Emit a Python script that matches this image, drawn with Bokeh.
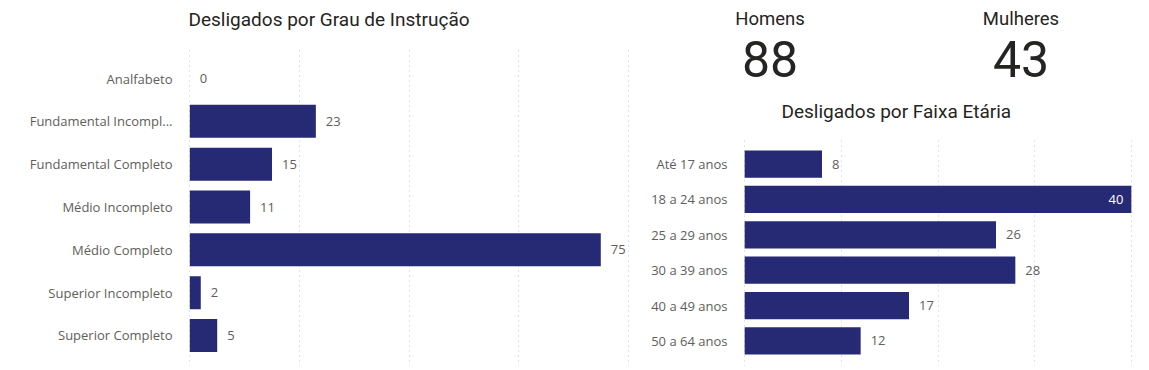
from bokeh.plotting import figure
from bokeh.models import ColumnDataSource, FactorRange, Range1d, Grid, FixedTicker, Title
from bokeh.layouts import row, column
from bokeh.embed import file_html
from bokeh.resources import INLINE
from bokeh.core.properties import value

# ---- data ----
edu_categories = ["Analfabeto", "Fundamental Incompl...", "Fundamental Completo",
                  "Médio Incompleto", "Médio Completo", "Superior Incompleto",
                  "Superior Completo"]
edu_values = [0, 23, 15, 11, 75, 2, 5]
edu_ticks = [0, 20, 40, 60, 80]

age_categories = ["Até 17 anos", "18 a 24 anos", "25 a 29 anos", "30 a 39 anos",
                  "40 a 49 anos", "50 a 64 anos"]
age_values = [8, 40, 26, 28, 17, 12]
age_ticks = [0, 10, 20, 30, 40]

kpi_labels = ["Homens", "Mulheres"]
kpi_values = [88, 43]

# ---- style ----
BAR = "#262A74"
LABEL = "#605E5C"
DARK = "#252423"
GRID = "#C8C6C4"
LBL_FONT = "Open Sans"
TTL_FONT = "Roboto"


def bar_chart(cats, vals, ticks, title, width, height, bl, br, bt, rpad, toff, spacer):
    xmax = ticks[-1]
    edge = xmax * 0.003
    p = figure(width=width, height=height,
               y_range=FactorRange(factors=list(reversed(cats)), range_padding=rpad),
               x_range=Range1d(-edge, xmax + edge),
               x_axis_location=None,
               output_backend="svg", toolbar_location=None,
               min_border_left=bl, min_border_right=br, min_border_top=bt,
               min_border_bottom=0, outline_line_color=None,
               background_fill_color="white", border_fill_color="white",
               title=title)
    p.frame_align = False
    # thin invisible spacer between the frame and the title
    p.add_layout(Title(text=" ", text_font_size="1px", standoff=spacer,
                       text_color="white"), "above")
    p.title.align = "left"
    p.title.offset = toff
    p.title.standoff = 10
    p.title.text_font = TTL_FONT
    p.title.text_font_size = "19px"
    p.title.text_font_style = "normal"
    p.title.text_color = DARK
    p.xgrid.grid_line_color = None
    p.ygrid.grid_line_color = None
    p.add_layout(Grid(dimension=0, ticker=FixedTicker(ticks=ticks),
                      grid_line_color=GRID, grid_line_dash="1 4",
                      grid_line_width=1))
    ax = p.yaxis[0]
    ax.axis_line_color = None
    ax.major_tick_line_color = None
    ax.minor_tick_line_color = None
    ax.major_label_standoff = 10
    ax.major_label_text_font = LBL_FONT
    ax.major_label_text_font_size = "13px"
    ax.major_label_text_color = LABEL

    src = ColumnDataSource(dict(cat=cats, val=vals))
    p.hbar(y="cat", right="val", left=0, height=0.77, source=src,
           fill_color=BAR, line_color=None)

    out = [(c, v) for c, v in zip(cats, vals) if v < 0.95 * xmax]
    ins = [(c, v) for c, v in zip(cats, vals) if v >= 0.95 * xmax]
    if out:
        s = ColumnDataSource(dict(cat=[c for c, _ in out], val=[v for _, v in out],
                                  txt=[str(v) for _, v in out]))
        p.text(x="val", y="cat", text="txt", source=s, x_offset=10,
               text_baseline="middle", text_align="left",
               text_font=value(LBL_FONT), text_font_size="13px", text_color=LABEL)
    if ins:
        s = ColumnDataSource(dict(cat=[c for c, _ in ins], val=[v for _, v in ins],
                                  txt=[str(v) for _, v in ins]))
        p.text(x="val", y="cat", text="txt", source=s, x_offset=-8,
               text_baseline="middle", text_align="right",
               text_font=value(LBL_FONT), text_font_size="13px", text_color="white")
    return p


left = bar_chart(edu_categories, edu_values, edu_ticks, "Desligados por Grau de Instrução",
                 640, 366, 188, 11, 47, 0.064, 0, 9)

KPI_H = 92
kpi = figure(width=506, height=KPI_H, x_range=FactorRange(factors=kpi_labels),
             y_range=Range1d(KPI_H, 0), x_axis_location=None, y_axis_location=None,
             output_backend="svg", toolbar_location=None, outline_line_color=None,
             min_border=0, min_border_left=4)
kpi.frame_align = False
kpi.xgrid.grid_line_color = None
kpi.ygrid.grid_line_color = None
ksrc = ColumnDataSource(dict(lab=kpi_labels, val=[str(v) for v in kpi_values],
                             ly=[18] * len(kpi_labels), vy=[58] * len(kpi_labels)))
kpi.text(x="lab", y="ly", text="lab", source=ksrc, text_align="center",
         text_baseline="middle", text_font=value(TTL_FONT), text_font_size="18.5px",
         text_color=DARK)
kpi.text(x="lab", y="vy", text="val", source=ksrc, text_align="center",
         text_baseline="middle", text_font=value(TTL_FONT), text_font_size="50px",
         text_color=DARK)

right = bar_chart(age_categories, age_values, age_ticks, "Desligados por Faixa Etária",
                  501, 366 - KPI_H, 103, 9, 137 - KPI_H, 0.075, 38, 8)

layout = row(left, column(kpi, right))

open("out.html", "w").write(file_html(layout, INLINE))
